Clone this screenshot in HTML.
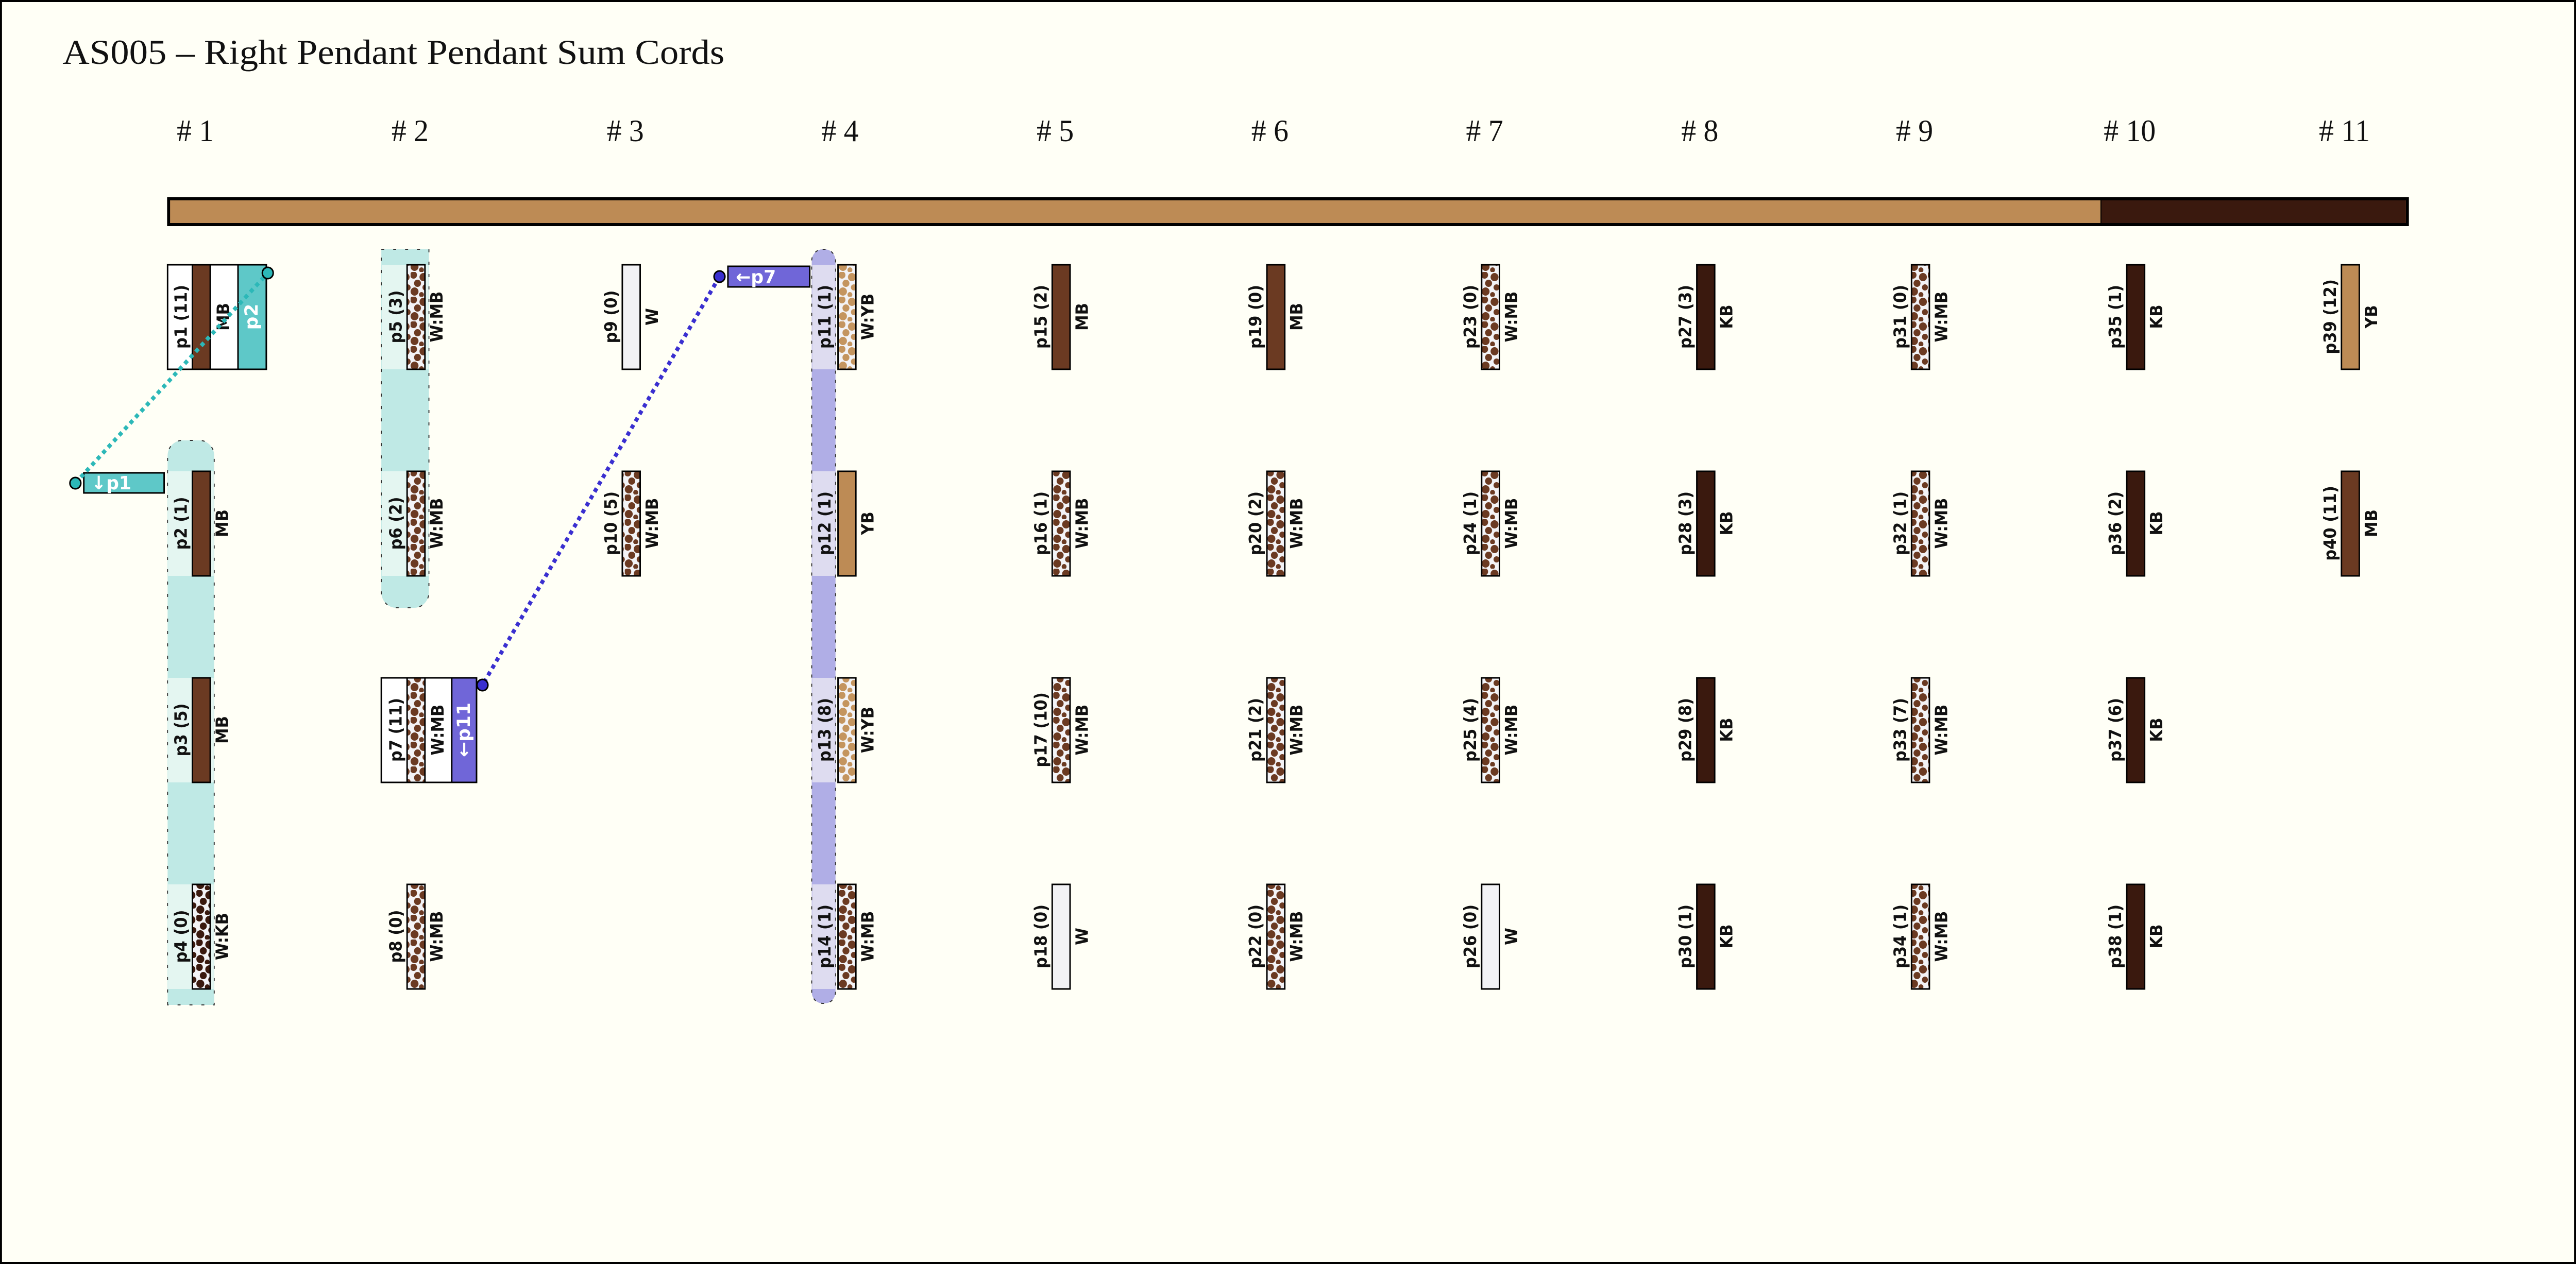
<!DOCTYPE html>
<html><head><meta charset="utf-8"><style>
html,body{margin:0;padding:0;background:#fffff6;overflow:hidden;width:100%;height:100%;}
svg{display:block;width:100vw;height:100vh;}
.l{font-family:"DejaVu Sans Condensed","DejaVu Sans",sans-serif;font-weight:bold;font-size:34px;fill:#111;}
.t{font-family:"DejaVu Sans Condensed","DejaVu Sans",sans-serif;font-weight:bold;font-size:34px;fill:#111;}
.h{font-family:"Liberation Serif",serif;font-size:60px;fill:#111;}
.w{font-family:"DejaVu Sans",sans-serif;font-weight:bold;font-size:36px;fill:#fff;}
</style></head><body>
<svg viewBox="0 0 5195 2454" preserveAspectRatio="none" xmlns="http://www.w3.org/2000/svg">
<defs>
<pattern id="pm" patternUnits="userSpaceOnUse" width="36" height="48">
<rect width="36" height="48" fill="#f3f3f6"/>
<circle cx="6" cy="6" r="7" fill="#6b3a22"/><circle cx="26" cy="10" r="8" fill="#6b3a22"/>
<circle cx="14" cy="22" r="7" fill="#6b3a22"/><circle cx="30" cy="30" r="6" fill="#6b3a22"/>
<circle cx="8" cy="38" r="8" fill="#6b3a22"/><circle cx="22" cy="44" r="5" fill="#6b3a22"/>
</pattern>
<pattern id="py" patternUnits="userSpaceOnUse" width="36" height="48">
<rect width="36" height="48" fill="#f3f3f6"/>
<circle cx="6" cy="6" r="7" fill="#c4955f"/><circle cx="26" cy="10" r="8" fill="#c4955f"/>
<circle cx="14" cy="22" r="7" fill="#c4955f"/><circle cx="30" cy="30" r="6" fill="#c4955f"/>
<circle cx="8" cy="38" r="8" fill="#c4955f"/><circle cx="22" cy="44" r="5" fill="#c4955f"/>
</pattern>
<pattern id="pk" patternUnits="userSpaceOnUse" width="36" height="48">
<rect width="36" height="48" fill="#f3f3f6"/>
<circle cx="6" cy="6" r="7" fill="#3a190e"/><circle cx="26" cy="10" r="8" fill="#3a190e"/>
<circle cx="14" cy="22" r="7" fill="#3a190e"/><circle cx="30" cy="30" r="6" fill="#3a190e"/>
<circle cx="8" cy="38" r="8" fill="#3a190e"/><circle cx="22" cy="44" r="5" fill="#3a190e"/>
</pattern>
</defs>
<rect x="2" y="2" width="5191" height="2450" fill="#fffff6" stroke="#000" stroke-width="4"/>
<text x="126" y="124" class="h" style="font-size:68px" textLength="1335" lengthAdjust="spacingAndGlyphs">AS005 – Right Pendant Pendant Sum Cords</text>

<g class="h" text-anchor="middle">
<text x="394" y="274">#&#160;1</text><text x="827" y="274">#&#160;2</text><text x="1261" y="274">#&#160;3</text>
<text x="1694" y="274">#&#160;4</text><text x="2128" y="274">#&#160;5</text><text x="2561" y="274">#&#160;6</text>
<text x="2994" y="274">#&#160;7</text><text x="3428" y="274">#&#160;8</text><text x="3861" y="274">#&#160;9</text>
<text x="4295" y="274">#&#160;10</text><text x="4728" y="274">#&#160;11</text>
</g>

<rect x="340" y="386" width="4515" height="50" fill="#bd8b55" stroke="#000" stroke-width="6"/>
<rect x="4237" y="389" width="615" height="44" fill="#3a190e"/>
<line x1="4237" y1="389" x2="4237" y2="433" stroke="#000" stroke-width="2"/>

<path d="M338,1951 V885 a30,30 0 0 1 30,-30 H402 a30,30 0 0 1 30,30 V1951 Z" fill="#bfe9e5" stroke="#333" stroke-width="2" stroke-dasharray="6 18"/>
<rect x="339" y="915" width="92" height="203" fill="#e4f6f1"/>
<rect x="339" y="1316" width="92" height="203" fill="#e4f6f1"/>
<rect x="339" y="1717" width="92" height="203" fill="#e4f6f1"/>
<path d="M769,484 H865 V1150 a30,30 0 0 1 -30,30 H799 a30,30 0 0 1 -30,-30 Z" fill="#bfe9e5" stroke="#333" stroke-width="2" stroke-dasharray="6 18"/>
<rect x="770" y="514" width="94" height="203" fill="#e4f6f1"/>
<rect x="770" y="915" width="94" height="203" fill="#e4f6f1"/>
<rect x="1637" y="484" width="48" height="1464" rx="22" fill="#b0aee6" stroke="#333" stroke-width="2" stroke-dasharray="6 12"/>
<rect x="1638" y="514" width="46" height="203" fill="#dedcf0"/>
<rect x="1638" y="915" width="46" height="203" fill="#dedcf0"/>
<rect x="1638" y="1316" width="46" height="203" fill="#dedcf0"/>
<rect x="1638" y="1717" width="46" height="203" fill="#dedcf0"/>

<rect x="338" y="514" width="199" height="203" fill="#fff" stroke="#000" stroke-width="3"/>
<rect x="480" y="514" width="57" height="203" fill="#5ec8c8" stroke="#000" stroke-width="3"/>
<text class="w" transform="translate(508,615) rotate(-90)" text-anchor="middle" dominant-baseline="central">p2</text>
<rect x="769" y="1316" width="192" height="203" fill="#fff" stroke="#000" stroke-width="3"/>
<rect x="911" y="1316" width="50" height="203" fill="#7066d8" stroke="#000" stroke-width="3"/>
<text class="w" transform="translate(936,1417) rotate(-90)" text-anchor="middle" dominant-baseline="central">←p11</text>

<g stroke="#000" stroke-width="3">
<rect x="388" y="514" width="36" height="203" fill="#6b3a22"/>
<rect x="388" y="915" width="36" height="203" fill="#6b3a22"/>
<rect x="388" y="1316" width="36" height="203" fill="#6b3a22"/>
<rect x="388" y="1717" width="36" height="203" fill="url(#pk)"/>
<rect x="821" y="514" width="36" height="203" fill="url(#pm)"/>
<rect x="821" y="915" width="36" height="203" fill="url(#pm)"/>
<rect x="821" y="1316" width="36" height="203" fill="url(#pm)"/>
<rect x="821" y="1717" width="36" height="203" fill="url(#pm)"/>
<rect x="1255" y="514" width="36" height="203" fill="#f2f2f5"/>
<rect x="1255" y="915" width="36" height="203" fill="url(#pm)"/>
<rect x="1690" y="514" width="36" height="203" fill="url(#py)"/>
<rect x="1690" y="915" width="36" height="203" fill="#bd8b55"/>
<rect x="1690" y="1316" width="36" height="203" fill="url(#py)"/>
<rect x="1690" y="1717" width="36" height="203" fill="url(#pm)"/>
<rect x="2122" y="514" width="36" height="203" fill="#6b3a22"/>
<rect x="2122" y="915" width="36" height="203" fill="url(#pm)"/>
<rect x="2122" y="1316" width="36" height="203" fill="url(#pm)"/>
<rect x="2122" y="1717" width="36" height="203" fill="#f2f2f5"/>
<rect x="2555" y="514" width="36" height="203" fill="#6b3a22"/>
<rect x="2555" y="915" width="36" height="203" fill="url(#pm)"/>
<rect x="2555" y="1316" width="36" height="203" fill="url(#pm)"/>
<rect x="2555" y="1717" width="36" height="203" fill="url(#pm)"/>
<rect x="2988" y="514" width="36" height="203" fill="url(#pm)"/>
<rect x="2988" y="915" width="36" height="203" fill="url(#pm)"/>
<rect x="2988" y="1316" width="36" height="203" fill="url(#pm)"/>
<rect x="2988" y="1717" width="36" height="203" fill="#f2f2f5"/>
<rect x="3422" y="514" width="36" height="203" fill="#3a190e"/>
<rect x="3422" y="915" width="36" height="203" fill="#3a190e"/>
<rect x="3422" y="1316" width="36" height="203" fill="#3a190e"/>
<rect x="3422" y="1717" width="36" height="203" fill="#3a190e"/>
<rect x="3855" y="514" width="36" height="203" fill="url(#pm)"/>
<rect x="3855" y="915" width="36" height="203" fill="url(#pm)"/>
<rect x="3855" y="1316" width="36" height="203" fill="url(#pm)"/>
<rect x="3855" y="1717" width="36" height="203" fill="url(#pm)"/>
<rect x="4289" y="514" width="36" height="203" fill="#3a190e"/>
<rect x="4289" y="915" width="36" height="203" fill="#3a190e"/>
<rect x="4289" y="1316" width="36" height="203" fill="#3a190e"/>
<rect x="4289" y="1717" width="36" height="203" fill="#3a190e"/>
<rect x="4722" y="514" width="36" height="203" fill="#bd8b55"/>
<rect x="4722" y="915" width="36" height="203" fill="#6b3a22"/>
</g>

<g class="l" text-anchor="middle" dominant-baseline="central">
<text transform="translate(365,615) rotate(-90)">p1 (11)</text>
<text transform="translate(365,1016) rotate(-90)">p2 (1)</text>
<text transform="translate(365,1417) rotate(-90)">p3 (5)</text>
<text transform="translate(365,1818) rotate(-90)">p4 (0)</text>
<text transform="translate(798,615) rotate(-90)">p5 (3)</text>
<text transform="translate(798,1016) rotate(-90)">p6 (2)</text>
<text transform="translate(798,1417) rotate(-90)">p7 (11)</text>
<text transform="translate(798,1818) rotate(-90)">p8 (0)</text>
<text transform="translate(1232,615) rotate(-90)">p9 (0)</text>
<text transform="translate(1232,1016) rotate(-90)">p10 (5)</text>
<text transform="translate(1663,615) rotate(-90)">p11 (1)</text>
<text transform="translate(1663,1016) rotate(-90)">p12 (1)</text>
<text transform="translate(1663,1417) rotate(-90)">p13 (8)</text>
<text transform="translate(1663,1818) rotate(-90)">p14 (1)</text>
<text transform="translate(2099,615) rotate(-90)">p15 (2)</text>
<text transform="translate(2099,1016) rotate(-90)">p16 (1)</text>
<text transform="translate(2099,1417) rotate(-90)">p17 (10)</text>
<text transform="translate(2099,1818) rotate(-90)">p18 (0)</text>
<text transform="translate(2532,615) rotate(-90)">p19 (0)</text>
<text transform="translate(2532,1016) rotate(-90)">p20 (2)</text>
<text transform="translate(2532,1417) rotate(-90)">p21 (2)</text>
<text transform="translate(2532,1818) rotate(-90)">p22 (0)</text>
<text transform="translate(2965,615) rotate(-90)">p23 (0)</text>
<text transform="translate(2965,1016) rotate(-90)">p24 (1)</text>
<text transform="translate(2965,1417) rotate(-90)">p25 (4)</text>
<text transform="translate(2965,1818) rotate(-90)">p26 (0)</text>
<text transform="translate(3399,615) rotate(-90)">p27 (3)</text>
<text transform="translate(3399,1016) rotate(-90)">p28 (3)</text>
<text transform="translate(3399,1417) rotate(-90)">p29 (8)</text>
<text transform="translate(3399,1818) rotate(-90)">p30 (1)</text>
<text transform="translate(3832,615) rotate(-90)">p31 (0)</text>
<text transform="translate(3832,1016) rotate(-90)">p32 (1)</text>
<text transform="translate(3832,1417) rotate(-90)">p33 (7)</text>
<text transform="translate(3832,1818) rotate(-90)">p34 (1)</text>
<text transform="translate(4266,615) rotate(-90)">p35 (1)</text>
<text transform="translate(4266,1016) rotate(-90)">p36 (2)</text>
<text transform="translate(4266,1417) rotate(-90)">p37 (6)</text>
<text transform="translate(4266,1818) rotate(-90)">p38 (1)</text>
<text transform="translate(4699,615) rotate(-90)">p39 (12)</text>
<text transform="translate(4699,1016) rotate(-90)">p40 (11)</text>
</g>
<g class="t" text-anchor="middle" dominant-baseline="central">
<text transform="translate(450,615) rotate(-90)">MB</text>
<text transform="translate(448,1016) rotate(-90)">MB</text>
<text transform="translate(448,1417) rotate(-90)">MB</text>
<text transform="translate(448,1818) rotate(-90)">W:KB</text>
<text transform="translate(881,615) rotate(-90)">W:MB</text>
<text transform="translate(881,1016) rotate(-90)">W:MB</text>
<text transform="translate(883,1417) rotate(-90)">W:MB</text>
<text transform="translate(881,1818) rotate(-90)">W:MB</text>
<text transform="translate(1315,615) rotate(-90)">W</text>
<text transform="translate(1315,1016) rotate(-90)">W:MB</text>
<text transform="translate(1750,615) rotate(-90)">W:YB</text>
<text transform="translate(1750,1016) rotate(-90)">YB</text>
<text transform="translate(1750,1417) rotate(-90)">W:YB</text>
<text transform="translate(1750,1818) rotate(-90)">W:MB</text>
<text transform="translate(2182,615) rotate(-90)">MB</text>
<text transform="translate(2182,1016) rotate(-90)">W:MB</text>
<text transform="translate(2182,1417) rotate(-90)">W:MB</text>
<text transform="translate(2182,1818) rotate(-90)">W</text>
<text transform="translate(2615,615) rotate(-90)">MB</text>
<text transform="translate(2615,1016) rotate(-90)">W:MB</text>
<text transform="translate(2615,1417) rotate(-90)">W:MB</text>
<text transform="translate(2615,1818) rotate(-90)">W:MB</text>
<text transform="translate(3048,615) rotate(-90)">W:MB</text>
<text transform="translate(3048,1016) rotate(-90)">W:MB</text>
<text transform="translate(3048,1417) rotate(-90)">W:MB</text>
<text transform="translate(3048,1818) rotate(-90)">W</text>
<text transform="translate(3482,615) rotate(-90)">KB</text>
<text transform="translate(3482,1016) rotate(-90)">KB</text>
<text transform="translate(3482,1417) rotate(-90)">KB</text>
<text transform="translate(3482,1818) rotate(-90)">KB</text>
<text transform="translate(3915,615) rotate(-90)">W:MB</text>
<text transform="translate(3915,1016) rotate(-90)">W:MB</text>
<text transform="translate(3915,1417) rotate(-90)">W:MB</text>
<text transform="translate(3915,1818) rotate(-90)">W:MB</text>
<text transform="translate(4349,615) rotate(-90)">KB</text>
<text transform="translate(4349,1016) rotate(-90)">KB</text>
<text transform="translate(4349,1417) rotate(-90)">KB</text>
<text transform="translate(4349,1818) rotate(-90)">KB</text>
<text transform="translate(4782,615) rotate(-90)">YB</text>
<text transform="translate(4782,1016) rotate(-90)">MB</text>
</g>

<rect x="169" y="918" width="162" height="39" fill="#5ec8c8" stroke="#000" stroke-width="3"/>
<text class="w" x="184" y="950">↓p1</text>
<line x1="152" y1="938" x2="540" y2="530" stroke="#2cb8b8" stroke-width="8" stroke-dasharray="8 8"/>
<circle cx="152" cy="938" r="11" fill="#2cb8b8" stroke="#000" stroke-width="3"/>
<circle cx="540" cy="530" r="11" fill="#2cb8b8" stroke="#000" stroke-width="3"/>

<rect x="1468" y="517" width="165" height="40" fill="#7066d8" stroke="#000" stroke-width="3"/>
<text class="w" x="1484" y="550">←p7</text>
<line x1="1451" y1="537" x2="973" y2="1330" stroke="#3a2fd0" stroke-width="8" stroke-dasharray="8 8"/>
<circle cx="1451" cy="537" r="11" fill="#3a2fd0" stroke="#000" stroke-width="3"/>
<circle cx="973" cy="1330" r="11" fill="#3a2fd0" stroke="#000" stroke-width="3"/>
</svg>
</body></html>
